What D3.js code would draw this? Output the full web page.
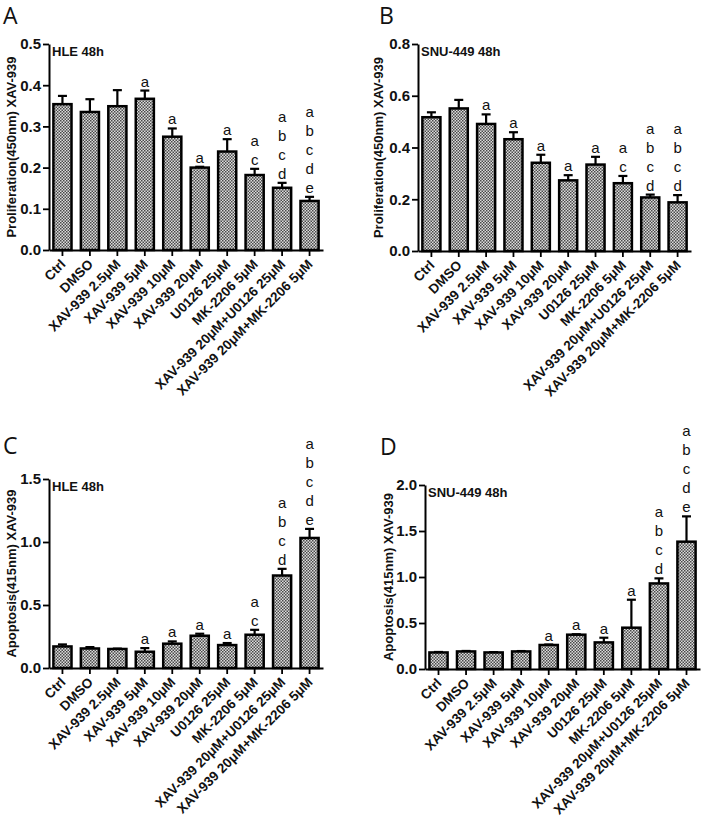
<!DOCTYPE html>
<html><head><meta charset="utf-8">
<script src="https://cdn.jsdelivr.net/npm/d3@7"></script>
<style>
body{margin:0;background:#fff;}
svg text{font-family:"Liberation Sans",Arial,sans-serif;}
</style></head>
<body>
<svg id="chart" width="704" height="823"></svg>
<script>
const categories = ["Ctrl","DMSO","XAV-939 2.5μM","XAV-939 5μM","XAV-939 10μM","XAV-939 20μM","U0126 25μM","MK-2206 5μM","XAV-939 20μM+U0126 25μM","XAV-939 20μM+MK-2206 5μM"];

const meanA = [0.354,0.335,0.349,0.367,0.275,0.200,0.239,0.182,0.151,0.119];
const semA  = [0.020,0.031,0.039,0.020,0.020,0.002,0.030,0.015,0.012,0.010];
const sigA  = ["","","","a","a","a","a","ac","abcd","abcde"];

const meanB = [0.517,0.551,0.491,0.432,0.341,0.273,0.334,0.262,0.207,0.188];
const semB  = [0.019,0.033,0.037,0.027,0.031,0.020,0.030,0.028,0.011,0.028];
const sigB  = ["","","a","a","a","a","a","ac","abcd","abcd"];

const meanC = [0.171,0.155,0.151,0.129,0.193,0.256,0.182,0.264,0.734,1.032];
const semC  = [0.016,0.011,0.003,0.029,0.018,0.016,0.016,0.039,0.053,0.072];
const sigC  = ["","","","a","a","a","a","ac","abcd","abcde"];

const meanD = [0.180,0.191,0.180,0.191,0.261,0.373,0.289,0.449,0.930,1.384];
const semD  = [0.005,0.005,0.004,0.004,0.005,0.005,0.051,0.304,0.055,0.275];
const sigD  = ["","","","","a","a","a","a","abcd","abcde"];

const yTicksA = [0,0.1,0.2,0.3,0.4,0.5];
const yTicksB = [0,0.2,0.4,0.6,0.8];
const yTicksC = [0,0.5,1.0,1.5];
const yTicksD = [0,0.5,1.0,1.5,2.0];

const panels = [
  {letter:"A", title:"HLE 48h", ylab:"Proliferation(450nm) XAV-939", mean:meanA, sem:semA, sig:sigA, ticks:yTicksA, max:0.5,
   x0:49, x1:323, yTop:44, y0:250, lx:3, ly:24, labX:11},
  {letter:"B", title:"SNU-449 48h", ylab:"Proliferation(450nm) XAV-939", mean:meanB, sem:semB, sig:sigB, ticks:yTicksB, max:0.8,
   x0:418, x1:691, yTop:44, y0:251, lx:379, ly:24, labX:378},
  {letter:"C", title:"HLE 48h", ylab:"Apoptosis(415nm) XAV-939", mean:meanC, sem:semC, sig:sigC, ticks:yTicksC, max:1.5,
   x0:49, x1:323, yTop:479, y0:668, lx:3, ly:454, labX:11},
  {letter:"D", title:"SNU-449 48h", ylab:"Apoptosis(415nm) XAV-939", mean:meanD, sem:semD, sig:sigD, ticks:yTicksD, max:2.0,
   x0:425, x1:700, yTop:485, y0:669, lx:380, ly:455, labX:388}
];

const svg = d3.select("#chart");
const defs = svg.append("defs");
const pat = defs.append("pattern").attr("id","chk").attr("patternUnits","userSpaceOnUse")
  .attr("width",3).attr("height",3);
pat.append("rect").attr("width",3).attr("height",3).attr("fill","#dcdcdc");
pat.append("rect").attr("x",0).attr("y",0).attr("width",1.5).attr("height",1.5).attr("fill","#4a4a4a");
pat.append("rect").attr("x",1.5).attr("y",1.5).attr("width",1.5).attr("height",1.5).attr("fill","#4a4a4a");

panels.forEach(p => {
  const g = svg.append("g");
  const x = d3.scaleBand().domain(categories).range([p.x0, p.x1]).paddingInner(0.34).paddingOuter(0.16);
  const y = d3.scaleLinear().domain([0, p.max]).range([p.y0, p.yTop]);

  // panel letter
  g.append("text").attr("x", p.lx).attr("y", p.ly).text(p.letter)
    .style("font-family","'Open Sans',sans-serif").style("font-size","23px").attr("fill","#111");

  // bars
  const data = categories.map((c,i)=>({c, m:p.mean[i], s:p.sem[i], sig:p.sig[i]}));
  g.selectAll("rect.bar").data(data).enter().append("rect").attr("class","bar")
    .attr("x", d=>x(d.c)).attr("width", x.bandwidth())
    .attr("y", d=>y(d.m)).attr("height", d=>y(0)-y(d.m))
    .attr("fill","url(#chk)").attr("stroke","#000").attr("stroke-width",2.5);

  // error bars (upper)
  const eb = g.selectAll("g.eb").data(data).enter().append("g");
  eb.append("line").attr("x1", d=>x(d.c)+x.bandwidth()/2).attr("x2", d=>x(d.c)+x.bandwidth()/2)
    .attr("y1", d=>y(d.m)).attr("y2", d=>y(d.m+d.s)).attr("stroke","#000").attr("stroke-width",2.2);
  eb.append("line").attr("x1", d=>x(d.c)+x.bandwidth()/2-4.5).attr("x2", d=>x(d.c)+x.bandwidth()/2+4.5)
    .attr("y1", d=>y(d.m+d.s)).attr("y2", d=>y(d.m+d.s)).attr("stroke","#000").attr("stroke-width",2.2);

  // significance letters
  data.forEach(d=>{
    const letters = d.sig.split("");
    const n = letters.length;
    letters.forEach((L,k)=>{
      g.append("text").attr("x", x(d.c)+x.bandwidth()/2).attr("y", y(d.m+d.s)-4-(n-1-k)*19)
        .attr("text-anchor","middle").style("font-size","15px").attr("fill","#111").text(L);
    });
  });

  // y axis
  const ya = g.append("g").attr("transform",`translate(${p.x0},0)`)
    .call(d3.axisLeft(y).tickValues(p.ticks).tickFormat(d3.format(".1f")).tickSize(6).tickSizeOuter(0).tickPadding(2));
  ya.select(".domain").attr("stroke","#000").attr("stroke-width",2);
  ya.selectAll(".tick line").attr("stroke","#000").attr("stroke-width",1.8);
  ya.selectAll(".tick text").style("font-size","15px").style("font-weight","bold").attr("fill","#111")
    .style("font-family","'Liberation Sans',Arial,sans-serif");

  // x axis
  const xa = g.append("g").attr("transform",`translate(0,${p.y0})`)
    .call(d3.axisBottom(x).tickSize(6).tickSizeOuter(0).tickFormat(""));
  xa.select(".domain").attr("stroke","#000").attr("stroke-width",2);
  xa.selectAll(".tick line").attr("stroke","#000").attr("stroke-width",1.8);
  xa.selectAll(".tick").append("text")
    .attr("transform","translate(4,15) rotate(-45)")
    .attr("text-anchor","end").attr("fill","#111")
    .style("font-size","13.5px").style("font-weight","bold")
    .style("font-family","'Liberation Sans',Arial,sans-serif")
    .text(d=>d);

  // title inside
  g.append("text").attr("x", p.x0+3).attr("y", p.yTop+12).text(p.title)
    .style("font-size","13px").style("font-weight","bold").attr("fill","#111");

  // y label
  g.append("text").attr("transform",`translate(${p.labX},${(p.y0+p.yTop)/2}) rotate(-90)`)
    .attr("text-anchor","middle").attr("dominant-baseline","central")
    .style("font-size","13px").style("font-weight","bold").attr("fill","#111").text(p.ylab);
});
</script>
</body></html>
